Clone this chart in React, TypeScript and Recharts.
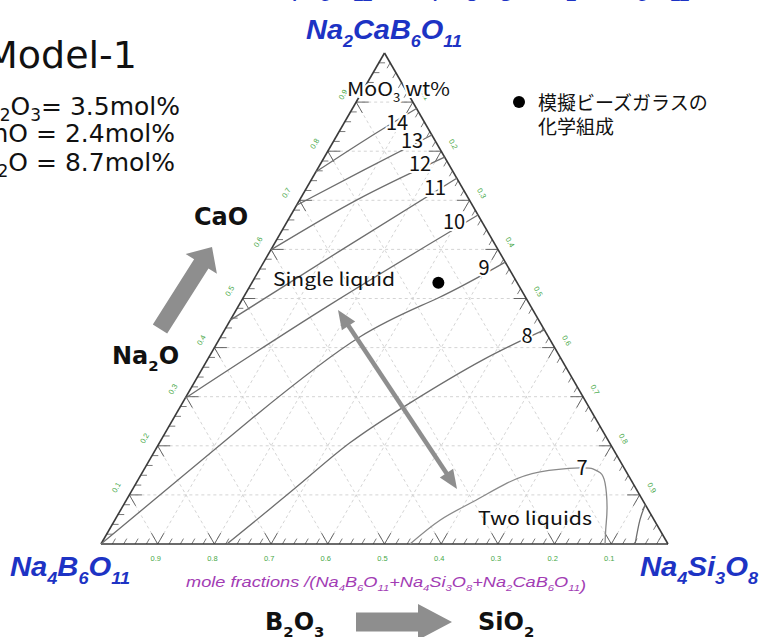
import React from 'react';
import { ScatterChart, Scatter, XAxis, YAxis, ReferenceLine } from 'recharts';

const S3 = Math.sqrt(3) / 2;

// edge fractions (major grid) and tick labels
const GRID_FRACTIONS = [0.1, 0.2, 0.3, 0.4, 0.5, 0.6, 0.7, 0.8, 0.9];
const BOTTOM_LABELS = ['0.9', '0.8', '0.7', '0.6', '0.5', '0.4', '0.3', '0.2', '0.1']; // Na4B6O11
const LEFT_LABELS = ['0.1', '0.2', '0.3', '0.4', '0.5', '0.6', '0.7', '0.8', '0.9']; // Na2CaB6O11
const RIGHT_LABELS = ['0.1', '0.2', '0.3', '0.4', '0.5', '0.6', '0.7', '0.8', '0.9']; // Na4Si3O8

// MoO3 solubility contours (wt%), points as [x Na4Si3O8, x Na2CaB6O11]
type Tern = [number, number];
const MOO3_14: Tern[] = [[0, 0.758], [0.057, 0.826], [0.113, 0.887]];
const MOO3_13: Tern[] = [[0, 0.69], [0.083, 0.762], [0.167, 0.833]];
const MOO3_12: Tern[] = [[0, 0.599], [0.101, 0.701], [0.212, 0.788]];
const MOO3_11: Tern[] = [[0, 0.456], [0.123, 0.597], [0.255, 0.745]];
const MOO3_10: Tern[] = [[0, 0.297], [0.16, 0.487], [0.33, 0.67]];
const MOO3_9: Tern[] = [[0, 0], [0.137, 0.253], [0.246, 0.422], [0.344, 0.501], [0.426, 0.574]];
const MOO3_8: Tern[] = [[0.222, 0], [0.29, 0.122], [0.336, 0.206], [0.401, 0.287], [0.486, 0.375], [0.564, 0.436]];
const MOO3_7: Tern[] = [
  [0.545, 0], [0.574, 0.049], [0.613, 0.086], [0.654, 0.124], [0.701, 0.147], [0.767, 0.155],
  [0.791, 0.153], [0.808, 0.145], [0.827, 0.124], [0.855, 0.075], [0.873, 0.035], [0.889, 0],
];
const MOO3_EDGE: Tern[] = [[0.942, 0], [0.926, 0.049], [0.92, 0.08]];

const CONTOURS = [MOO3_14, MOO3_13, MOO3_12, MOO3_11, MOO3_10, MOO3_9, MOO3_8, MOO3_7, MOO3_EDGE];

// simulated bead glass composition
const MODEL_GLASS: Tern[] = [[0.329, 0.532]];

const toXY = ([b, c]: Tern) => ({ x: b + c / 2, y: c * S3 });
const seg = (p: Tern, q: Tern) => [toXY(p), toXY(q)];

const TICK = 0.022;
const MINOR = 0.011;

const gridSegs = GRID_FRACTIONS.flatMap((k) => [
  seg([0, k], [1 - k, k]),
  seg([k, 0], [k, 1 - k]),
  seg([1 - k, 0], [0, 1 - k]),
]);

const majorTicks = GRID_FRACTIONS.flatMap((k) => [
  // bottom
  seg([k, 0], [k, TICK]),
  seg([k, 0], [k - TICK, TICK]),
  // left
  seg([0, k], [TICK, k]),
  seg([0, k], [TICK, k - TICK]),
  // right
  seg([k, 1 - k], [k - TICK, 1 - k]),
  seg([k, 1 - k], [k, 1 - k - TICK]),
]);

const minorPos: number[] = [];
for (let i = 1; i < 50; i++) if (i % 5 !== 0) minorPos.push(i / 50);
const minorTicks = minorPos.flatMap((k) => [
  seg([k, 0], [k, MINOR]),
  seg([0, k], [MINOR, k]),
  seg([k, 1 - k], [k, 1 - k - MINOR]),
]);

const edges = [seg([0, 0], [1, 0]), seg([0, 0], [0, 1]), seg([1, 0], [0, 1])];

const bottomLabelPts = GRID_FRACTIONS.map((k, i) => ({ ...toXY([k, 0]), label: BOTTOM_LABELS[i] }));
const leftLabelPts = GRID_FRACTIONS.map((k, i) => ({ ...toXY([0, k]), label: LEFT_LABELS[i] }));
const rightLabelPts = GRID_FRACTIONS.map((k, i) => ({ ...toXY([k, 1 - k]), label: RIGHT_LABELS[i] }));

const tickLabel = (side: 'bottom' | 'left' | 'right') => (props: any) => {
  const { cx, cy, payload } = props;
  let x = cx;
  let y = cy;
  let rot = 0;
  if (side === 'bottom') { x = cx - 2; y = cy + 14; }
  if (side === 'left') { x = cx - 13; y = cy - 7.5; rot = -60; }
  if (side === 'right') { x = cx + 12; y = cy - 7; rot = 60; }
  return (
    <text x={x} y={y} transform={`rotate(${rot} ${x} ${y})`} textAnchor="middle" dominantBaseline="central"
      fontSize={7.5} fill="#47a847" fontFamily="Liberation Sans">{payload.label}</text>
  );
};

const noShape = () => <g />;

// chemical formula with subscripted digits
const formula = (f: string, size: number) => {
  const parts = f.split(/(\d+)/).filter(Boolean);
  let low = false;
  return parts.map((p, i) => {
    const num = /^\d+$/.test(p);
    const dy = num && !low ? size * 0.3 : !num && low ? -size * 0.3 : 0;
    low = num;
    return <tspan key={i} dy={dy} fontSize={num ? size * 0.62 : size}>{p}</tspan>;
  });
};

const blockArrow = (x1: number, y1: number, x2: number, y2: number, shaft: number, head: number, headLen: number) => {
  const len = Math.hypot(x2 - x1, y2 - y1);
  const ux = (x2 - x1) / len;
  const uy = (y2 - y1) / len;
  const nx = -uy;
  const ny = ux;
  const bx = x2 - ux * headLen;
  const by = y2 - uy * headLen;
  return [
    [x1 + nx * shaft / 2, y1 + ny * shaft / 2],
    [bx + nx * shaft / 2, by + ny * shaft / 2],
    [bx + nx * head / 2, by + ny * head / 2],
    [x2, y2],
    [bx - nx * head / 2, by - ny * head / 2],
    [bx - nx * shaft / 2, by - ny * shaft / 2],
    [x1 - nx * shaft / 2, y1 - ny * shaft / 2],
  ].map((q) => q.join(',')).join(' ');
};

const headAt = (x1: number, y1: number, x2: number, y2: number, w: number, l: number) => {
  const len = Math.hypot(x2 - x1, y2 - y1);
  const ux = (x2 - x1) / len;
  const uy = (y2 - y1) / len;
  const bx = x2 - ux * l;
  const by = y2 - uy * l;
  return `${x2},${y2} ${bx - uy * w / 2},${by + ux * w / 2} ${bx + uy * w / 2},${by - ux * w / 2}`;
};

const BLUE = '#1d33c4';
const GRAY = '#8e8e8e';
const JP = '"Noto Sans CJK JP", sans-serif';

const CONTOUR_LABELS = [
  { t: '14', x: 397, y: 123 },
  { t: '13', x: 412, y: 141 },
  { t: '12', x: 420, y: 164 },
  { t: '11', x: 435, y: 188 },
  { t: '10', x: 454, y: 222 },
  { t: '9', x: 484, y: 268 },
  { t: '8', x: 527, y: 336 },
  { t: '7', x: 582, y: 468 },
];

export default function App() {
  return (
    <div style={{ position: 'absolute', left: 0, top: 0, width: 760, height: 637, background: '#fff', overflow: 'hidden' }}>
      <ScatterChart width={760} height={637} margin={{ top: 53, right: 92, bottom: 93, left: 101 }}>
        <XAxis type="number" dataKey="x" domain={[0, 1]} hide />
        <YAxis type="number" dataKey="y" domain={[0, S3]} hide />
        {gridSegs.map((s, i) => (
          <ReferenceLine key={`g${i}`} segment={s} stroke="#cfcfcf" strokeDasharray="3 3" strokeWidth={0.9} ifOverflow="visible" />
        ))}
        {minorTicks.map((s, i) => (
          <ReferenceLine key={`m${i}`} segment={s} stroke="#555" strokeWidth={0.8} ifOverflow="visible" />
        ))}
        {majorTicks.map((s, i) => (
          <ReferenceLine key={`t${i}`} segment={s} stroke="#555" strokeWidth={0.9} ifOverflow="visible" />
        ))}
        {CONTOURS.map((c, i) => (
          <Scatter key={`c${i}`} data={c.map(toXY)} shape={noShape} line={{ stroke: i === 7 ? '#8a8a8a' : '#6e6e6e', strokeWidth: 1.3 }}
            lineJointType="natural" isAnimationActive={false} />
        ))}
        {edges.map((s, i) => (
          <ReferenceLine key={`e${i}`} segment={s} stroke="#3a3a3a" strokeWidth={1.6} ifOverflow="visible" />
        ))}
        <Scatter data={bottomLabelPts} shape={tickLabel('bottom')} isAnimationActive={false} />
        <Scatter data={leftLabelPts} shape={tickLabel('left')} isAnimationActive={false} />
        <Scatter data={rightLabelPts} shape={tickLabel('right')} isAnimationActive={false} />
        <Scatter data={MODEL_GLASS.map(toXY)} shape={(p: any) => <circle cx={p.cx} cy={p.cy} r={6} fill="#000" />} isAnimationActive={false} />
      </ScatterChart>

      <svg width={760} height={637} style={{ position: 'absolute', left: 0, top: 0, pointerEvents: 'none' }}>
        {/* cropped line at top */}
        <text x={240} y={-5} fontFamily="Liberation Sans" fontWeight="bold" fontStyle="italic" fontSize={20} fill={BLUE}
          textLength={460} lengthAdjust="spacingAndGlyphs">
          {formula('(Na4B6O11+Na4Si3O8+Na2CaB6O11)', 20)}
        </text>

        {/* corner titles */}
        <text x={306} y={39} fontFamily="Liberation Sans" fontWeight="bold" fontStyle="italic" fontSize={27} fill={BLUE}
          textLength={156} lengthAdjust="spacingAndGlyphs">{formula('Na2CaB6O11', 27)}</text>
        <text x={10} y={576} fontFamily="Liberation Sans" fontWeight="bold" fontStyle="italic" fontSize={27} fill={BLUE}
          textLength={120} lengthAdjust="spacingAndGlyphs">{formula('Na4B6O11', 27)}</text>
        <text x={640} y={576} fontFamily="Liberation Sans" fontWeight="bold" fontStyle="italic" fontSize={27} fill={BLUE}
          textLength={118} lengthAdjust="spacingAndGlyphs">{formula('Na4Si3O8', 27)}</text>
        <text x={186} y={587} fontFamily="Liberation Sans" fontStyle="italic" fontSize={14} fill="#a23cb4"
          textLength={400} lengthAdjust="spacingAndGlyphs">
          <tspan>mole fractions /(</tspan>
          {formula('Na4B6O11+Na4Si3O8+Na2CaB6O11', 14)}
          <tspan dy={0}>)</tspan>
        </text>

        {/* contour annotations */}
        <text x={347} y={96} fontFamily={JP} fontSize={19} fill="#111" textLength={103} lengthAdjust="spacingAndGlyphs"
          stroke="#fff" strokeWidth={4} paintOrder="stroke">{formula('MoO3 wt%', 19)}</text>
        {CONTOUR_LABELS.map((l) => (
          <text key={l.t} x={l.x} y={l.y + 7} textAnchor="middle" fontFamily={JP} fontSize={20} fill="#111"
            stroke="#fff" strokeWidth={4} paintOrder="stroke">{l.t}</text>
        ))}
        <text x={273} y={286} fontFamily={JP} fontSize={18} fill="#111" textLength={122} lengthAdjust="spacingAndGlyphs">Single liquid</text>
        <text x={478} y={525} fontFamily={JP} fontSize={18} fill="#111" textLength={114} lengthAdjust="spacingAndGlyphs">Two liquids</text>

        {/* double arrow */}
        <line x1={344} y1={319} x2={451} y2={480} stroke={GRAY} strokeWidth={4.5} />
        <polygon points={headAt(457, 489, 338, 310, 16, 19)} fill={GRAY} />
        <polygon points={headAt(338, 310, 457, 489, 16, 19)} fill={GRAY} />

        {/* block arrows */}
        <polygon points={blockArrow(160, 329, 212, 247, 17, 37, 20)} fill={GRAY} />
        <polygon points={blockArrow(356, 622, 452, 622, 19, 36, 34)} fill={GRAY} />

        <text x={194} y={225} fontFamily="DejaVu Sans" fontWeight="bold" fontSize={24} fill="#111">CaO</text>
        <text x={112} y={364} fontFamily="DejaVu Sans" fontWeight="bold" fontSize={24} fill="#111">{formula('Na2O', 24)}</text>
        <text x={265} y={630} fontFamily="DejaVu Sans" fontWeight="bold" fontSize={24} fill="#111">{formula('B2O3', 24)}</text>
        <text x={478} y={630} fontFamily="DejaVu Sans" fontWeight="bold" fontSize={24} fill="#111">{formula('SiO2', 24)}</text>

        {/* model description */}
        <text x={137} y={68} textAnchor="end" fontFamily="DejaVu Sans" fontSize={38} fill="#111">Model-1</text>
        <text x={180} y={115} textAnchor="end" fontFamily="DejaVu Sans" fontSize={25} fill="#111">
          <tspan>Al</tspan><tspan dy={6} fontSize={17}>2</tspan><tspan dy={-6}>O</tspan><tspan dy={6} fontSize={17}>3</tspan><tspan dy={-6}>= 3.5mol%</tspan>
        </text>
        <text x={175} y={142} textAnchor="end" fontFamily="DejaVu Sans" fontSize={25} fill="#111">ZnO = 2.4mol%</text>
        <text x={175} y={171} textAnchor="end" fontFamily="DejaVu Sans" fontSize={25} fill="#111">
          <tspan>K</tspan><tspan dy={6} fontSize={17}>2</tspan><tspan dy={-6}>O = 8.7mol%</tspan>
        </text>

        {/* legend */}
        <circle cx={519} cy={102} r={6} fill="#000" />
        <text x={538} y={110} fontFamily={JP} fontSize={19} fill="#111">模擬ビーズガラスの</text>
        <text x={538} y={134} fontFamily={JP} fontSize={19} fill="#111">化学組成</text>
      </svg>
    </div>
  );
}
